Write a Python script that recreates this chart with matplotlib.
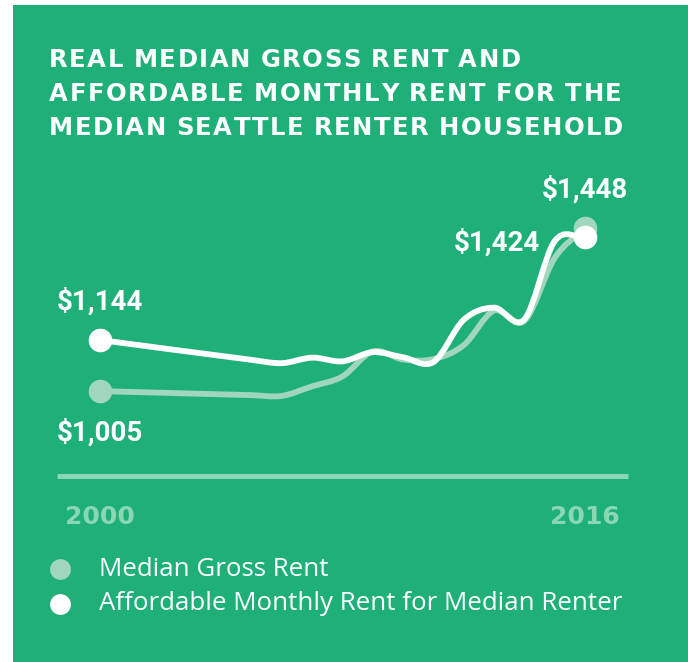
import numpy as np
import matplotlib
matplotlib.use("Agg")
import matplotlib.pyplot as plt
from matplotlib.path import Path
from matplotlib.patches import PathPatch, Rectangle
from matplotlib.lines import Line2D

# rent series (real dollars)
years = [2000, 2005, 2006, 2007, 2008, 2009, 2010, 2011, 2012, 2013, 2014, 2015, 2016]
gross_rent = [1005, 994, 992, 1018, 1045, 1113, 1091, 1092, 1130, 1224, 1196, 1367, 1448]
affordable_rent = [1144, 1090, 1081, 1096, 1086, 1111, 1097, 1084, 1199, 1232, 1200, 1413, 1424]

title_lines = ["REAL MEDIAN GROSS RENT AND",
               "AFFORDABLE MONTHLY RENT FOR THE",
               "MEDIAN SEATTLE RENTER HOUSEHOLD"]
legend_labels = ["Median Gross Rent", "Affordable Monthly Rent for Median Renter"]
year_ticks = [2000, 2016]

GREEN = "#1fb079"
PALE = "#a0d6bc"
AXIS = "#8bd7b4"
WHITE = "#ffffff"

W, H = 688, 662
fig = plt.figure(figsize=(W / 100, H / 100), dpi=100)
fig.patch.set_facecolor("white")
fig.add_artist(Rectangle((13 / W, 0), 1, 1 - 5 / H, transform=fig.transFigure,
                         facecolor=GREEN, edgecolor="none", zorder=0))


def fx(px):
    return px / W


def fy(py):
    return 1 - py / H


# plot area: 2000..2016 spans px 100..585, value axis ~2.72 $/px
ax = fig.add_axes([fx(100), fy(470), 485 / W, 300 / H])
ax.set_xlim(2000, 2016)
ax.set_ylim(1144 - 130 * 2.72, 1144 + 170 * 2.72)
ax.axis("off")
ax.patch.set_alpha(0)


def smooth_path(xs, ys):
    xs = np.asarray(xs, float)
    ys = np.asarray(ys, float)
    n = len(xs)
    m = np.zeros(n)
    m[0] = (ys[1] - ys[0]) / (xs[1] - xs[0])
    m[-1] = (ys[-1] - ys[-2]) / (xs[-1] - xs[-2])
    for i in range(1, n - 1):
        m[i] = (ys[i + 1] - ys[i - 1]) / (xs[i + 1] - xs[i - 1])
    verts = [(xs[0], ys[0])]
    codes = [Path.MOVETO]
    for i in range(n - 1):
        h = xs[i + 1] - xs[i]
        verts += [(xs[i] + h / 3, ys[i] + m[i] * h / 3),
                  (xs[i + 1] - h / 3, ys[i + 1] - m[i + 1] * h / 3),
                  (xs[i + 1], ys[i + 1])]
        codes += [Path.CURVE4] * 3
    return Path(verts, codes)


for ys, col in [(gross_rent, PALE), (affordable_rent, WHITE)]:
    ax.add_patch(PathPatch(smooth_path(years, ys), facecolor="none", edgecolor=col,
                           lw=4.2, capstyle="round", joinstyle="round", clip_on=False))
    ax.plot([years[0], years[-1]], [ys[0], ys[-1]], "o", ms=17, color=col,
            mec="none", clip_on=False)

lab = dict(textcoords="offset pixels", fontsize=20, fontweight="bold",
           family="Roboto", color=WHITE, va="center")
ax.annotate(f"${affordable_rent[0]:,}", (years[0], affordable_rent[0]), (-43, 38), ha="left", **lab)
ax.annotate(f"${gross_rent[0]:,}", (years[0], gross_rent[0]), (-43, -41), ha="left", **lab)
ax.annotate(f"${affordable_rent[-1]:,}", (years[-1], affordable_rent[-1]), (-45, -5), ha="right", **lab)
ax.annotate(f"${gross_rent[-1]:,}", (years[-1], gross_rent[-1]), (0, 39), ha="center", **lab)

# baseline and end years
fig.add_artist(Line2D([fx(57), fx(628)], [fy(476), fy(476)], lw=3.6, color=AXIS,
                      solid_capstyle="butt"))
for yr in year_ticks:
    ax.annotate(str(yr), (yr, ax.get_ylim()[0]), xycoords="data",
                xytext=(0, -47), textcoords="offset pixels", ha="center", va="center",
                fontsize=18, fontweight="bold", family="DejaVu Sans", color=AXIS)

# title with letter spacing
renderer = fig.canvas.get_renderer()
tsize = 17.5


def glyph_widths(s):
    out = []
    for ch in s:
        if ch == " ":
            out.append(None)
            continue
        t = fig.text(0, 0, ch, fontsize=tsize, fontweight="bold")
        out.append(t.get_window_extent(renderer).width)
        t.remove()
    return out


space_w = tsize * 100 / 72 * 0.3
ref = glyph_widths(title_lines[2])
natural = sum(w if w is not None else space_w for w in ref)
track = (623 - 49 - natural) / (len(title_lines[2]) - 1)

for line, base in zip(title_lines, [67, 101, 135]):
    x = 49
    for ch, w in zip(line, glyph_widths(line)):
        if w is None:
            x += space_w + track
            continue
        fig.text(fx(x), fy(base), ch, fontsize=tsize, fontweight="bold",
                 color=WHITE, va="baseline", ha="left")
        x += w + track

# legend
for i, (txt, col) in enumerate(zip(legend_labels, [PALE, WHITE])):
    yy = 569 + 35 * i
    fig.add_artist(Line2D([fx(60)], [fy(yy)], marker="o", ms=15, color=col, mec="none"))
    fig.text(fx(99), fy(yy), txt, fontsize=18.6, family="Open Sans", color=WHITE,
             va="center", ha="left")

fig.savefig("out.png", dpi=100, facecolor=fig.get_facecolor())
